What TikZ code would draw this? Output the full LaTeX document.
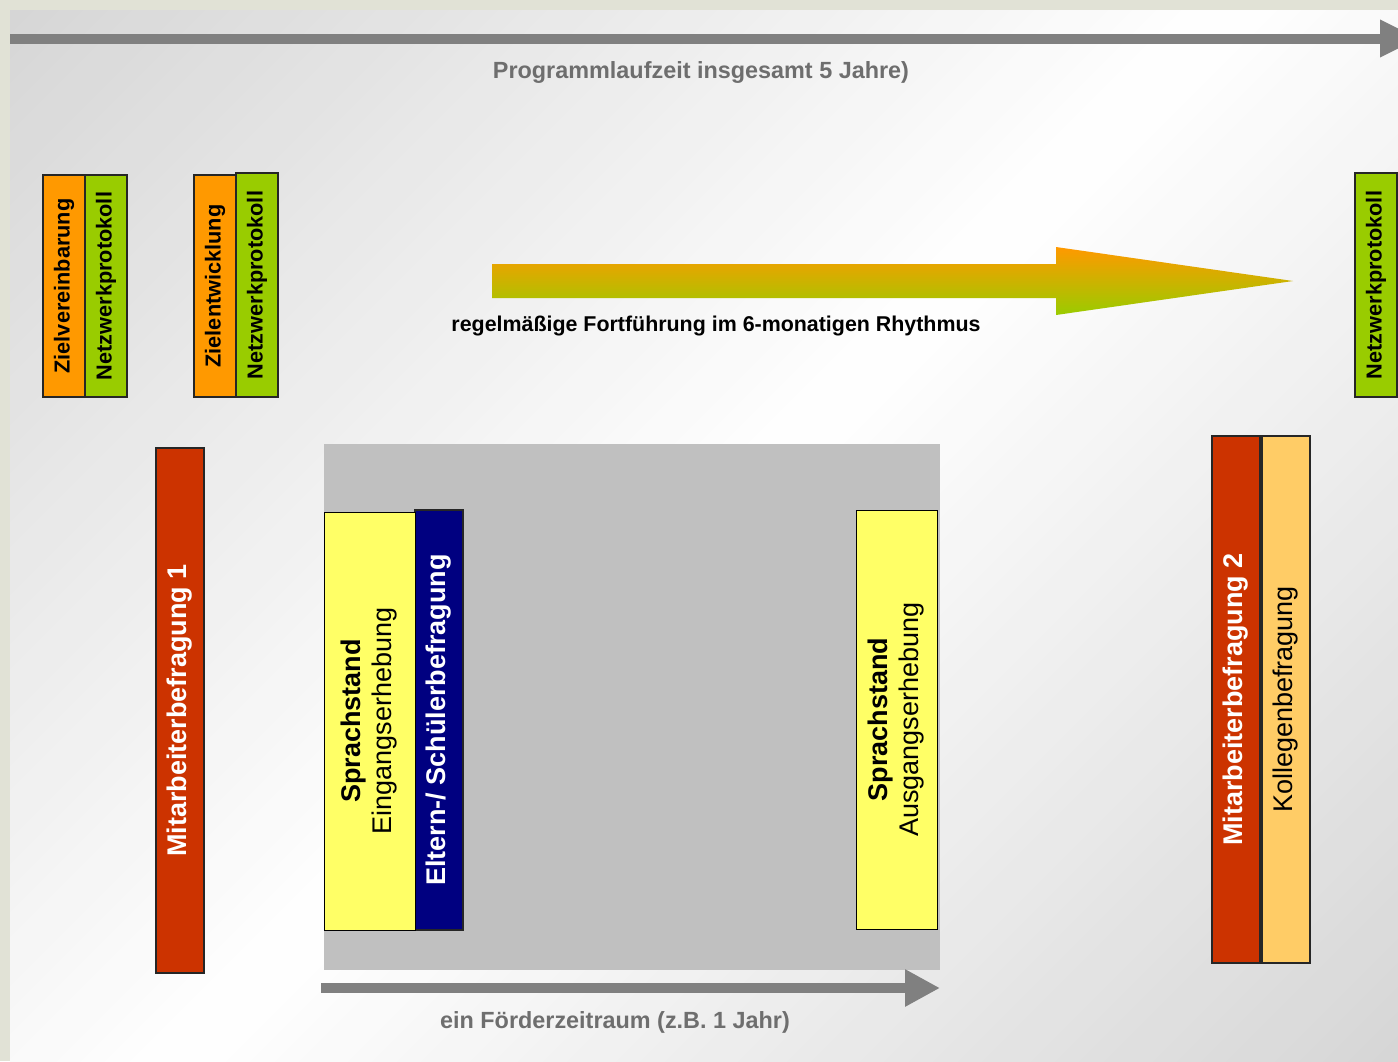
\documentclass[tikz,border=0pt]{standalone}
\usepackage{fontspec}
\setmainfont{Liberation Sans}
\usetikzlibrary{arrows.meta}
\definecolor{framec}{HTML}{E1E2D6}
\definecolor{bgg}{HTML}{D6D6D6}
\definecolor{orangec}{HTML}{FF9900}
\definecolor{greenc}{HTML}{99CC00}
\definecolor{redc}{HTML}{CC3300}
\definecolor{lorange}{HTML}{FFCC66}
\definecolor{yellowc}{HTML}{FFFF66}
\definecolor{navyc}{HTML}{000080}
\definecolor{panelc}{HTML}{C0C0C0}
\definecolor{arrowc}{HTML}{808080}
\definecolor{labelc}{HTML}{6E6E6E}
\begin{document}
\begin{tikzpicture}[x=1pt,y=-1pt,
  bar/.style={draw=black!85, line width=1.2pt, rotate=90, inner sep=0pt, align=center},
  smallbar/.style={bar, minimum height=42pt, font=\fontsize{21.7}{24}\selectfont\bfseries},
  bigbar/.style={bar, minimum height=48pt, font=\fontsize{27}{31}\selectfont},
  graylabel/.style={text=labelc, font=\fontsize{23.4}{26}\selectfont\bfseries, inner sep=0pt},
  timearrow/.style={draw=arrowc, line width=10pt, -{Triangle[length=36pt,width=36pt]}}
]
\useasboundingbox (0,0) rectangle (1398,1061);
\clip (0,0) rectangle (1398,1061);
% background
\fill[framec] (0,0) rectangle (1398,1061);
\begin{scope}
  \clip (10,10) rectangle (1398,1061);
  \foreach \i in {0,...,99} {
    \pgfmathsetmacro{\cA}{20+24.39*\i}
    \pgfmathsetmacro{\cB}{\cA+25.5}
    \pgfmathsetmacro{\p}{abs(2*(\i+0.5)/100-1)*100}
    \fill[bgg!\p!white] (-1200,\cA+1200) -- (2600,\cA-2600) -- (2600,\cB-2600) -- (-1200,\cB+1200) -- cycle;
  }
\end{scope}

% overall programme arrow
\coordinate (pa) at (10,38.5);
\coordinate (pb) at (1419,38.5);
\draw[timearrow, -{Triangle[length=39pt,width=35pt]}] (pa) -- (pb);
\node[graylabel] (ptext) at (701,72.5) {Programmlaufzeit insgesamt 5 Jahre)};

% small top bars
\node[smallbar, fill=orangec, minimum width=222pt] (zv) at (64,286) {Zielvereinbarung};
\node[smallbar, fill=greenc, minimum width=222pt] (nw1) at (106,286) {Netzwerkprotokoll};
\node[smallbar, fill=orangec, minimum width=222pt] (ze) at (215,286) {Zielentwicklung};
\node[smallbar, fill=greenc, minimum width=224pt] (nw2) at (257,285) {Netzwerkprotokoll};
\node[smallbar, fill=greenc, minimum width=224pt] (nw3) at (1376,285) {Netzwerkprotokoll};

% gradient arrow
\shade[top color=orangec, bottom color=greenc]
  (492,264) -- (1056,264) -- (1056,247) -- (1293,281) -- (1056,315) -- (1056,298) -- (492,298) -- cycle;
\node[font=\fontsize{21.4}{24}\selectfont\bfseries, inner sep=0pt] (rtext) at (716,326)
  {regelmäßige Fortführung im 6-monatigen Rhythmus};

% grey panel (one funding period)
\node[fill=panelc, draw=none, minimum width=616pt, minimum height=526pt, inner sep=0pt] (panel) at (632,707) {};

\node[bigbar, fill=navyc, text=white, font=\fontsize{27}{31}\selectfont\bfseries, minimum width=420pt] (eltern) at (439,720) {Eltern-/ Schülerbefragung};
\node[bigbar, fill=yellowc, minimum height=91pt, minimum width=418pt, draw=black, line width=1pt] (spe) at (369.5,721)
  {\textbf{Sprachstand}\\Eingangserhebung};
\node[bigbar, fill=yellowc, minimum height=81pt, minimum width=419pt, draw=black, line width=1pt] (spa) at (896.5,719.5)
  {\textbf{Sprachstand}\\Ausgangserhebung};

% staff surveys
\node[bigbar, fill=redc, text=white, font=\fontsize{27}{31}\selectfont\bfseries, minimum width=525pt] (mb1) at (180,710.5) {Mitarbeiterbefragung 1};
\node[bigbar, fill=redc, text=white, font=\fontsize{27}{31}\selectfont\bfseries, minimum width=527pt] (mb2) at (1236,699.5) {Mitarbeiterbefragung 2};
\node[bigbar, fill=lorange, minimum width=527pt] (kb) at (1286,699.5) {Kollegenbefragung};

% funding period arrow
\coordinate (fa) at (321,988);
\coordinate (fb) at (940,988);
\draw[timearrow, -{Triangle[length=35pt,width=35pt]}] (fa) -- (fb);
\node[graylabel] (ftext) at (615,1022) {ein Förderzeitraum (z.B. 1 Jahr)};
\end{tikzpicture}
\end{document}
